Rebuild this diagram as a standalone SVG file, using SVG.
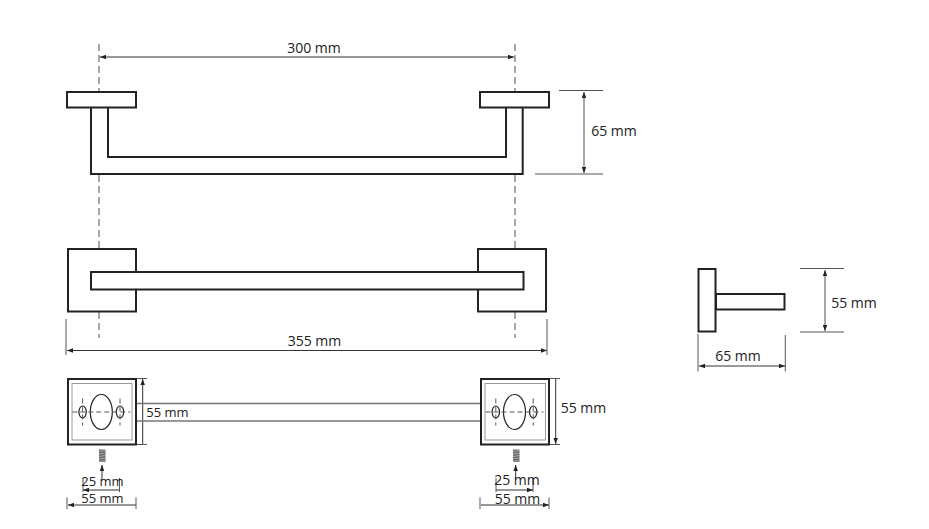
<svg xmlns="http://www.w3.org/2000/svg" width="929" height="529" viewBox="0 0 929 529">
<defs>
<marker id="a" viewBox="0 0 8 6" refX="8" refY="3" markerWidth="6" markerHeight="4.5" markerUnits="userSpaceOnUse" orient="auto-start-reverse"><path d="M0 0L8 3L0 6Z" fill="#222"/></marker>
<g id="holes">
<ellipse cx="0" cy="0" rx="11" ry="17.5" class="th"/>
<ellipse cx="-18.7" cy="0" rx="3.700" ry="6" class="th"/>
<ellipse cx="18.7" cy="0" rx="3.700" ry="6" class="th"/>
<path d="M-29 0H29" class="cl"/>
<path d="M-18.7-13.500V13.500M18.700-13.500V13.500" class="cl"/>
</g>
<g id="screw">
<rect x="0" y="0" width="6.500" height="12.500" fill="#666"/>
<path d="M0 2L6.500 1M0 4.500L6.500 3.500M0 7L6.500 6M0 9.500L6.500 8.500M0 12L6.500 11" stroke="#ccc" stroke-width=".7"/>
</g>
</defs>
<style>
text{font-family:"Open Sans","Noto Sans",sans-serif;font-size:14px;fill:#222;text-anchor:middle}
.o{fill:#fff;stroke:#222;stroke-width:2}
.l{fill:none;stroke:#222;stroke-width:2}
.d{fill:none;stroke:#333;stroke-width:1;marker-start:url(#a);marker-end:url(#a)}
.g{fill:none;stroke:#777;stroke-width:1.300;marker-start:url(#a);marker-end:url(#a)}
.t{fill:none;stroke:#555;stroke-width:1}
.dash{fill:none;stroke:#777;stroke-width:1.300;stroke-dasharray:7 4}
.th{fill:#fff;stroke:#222;stroke-width:1.200}
.cl{fill:none;stroke:#555;stroke-width:1;stroke-dasharray:5 3}
.s{font-size:13px}
</style>
<rect width="929" height="529" fill="#fff"/>
<g id="connectors">
<path class="dash" d="M99 44V91M99 175V248M99 312V338M515 44V91M515 175V248M515 312V338"/>
<path class="d" d="M100 57H514"/>
<path class="g" d="M584 92V173"/>
<path class="t" d="M559 90.500H603M535 174H603"/>
<path class="d" d="M67 350.500H547"/>
<path class="t" d="M66 319V355M547 319V355"/>
<path class="t" d="M800 268.500H844M800 332H844M698 334V371.500M785.300 335V371.500"/>
<path class="g" d="M825 270V331"/>
<path class="d" d="M699 366H785"/>
<path class="t" d="M136 378.500H147M136 444.500H147M549 378.500H560M549 444.500H560"/>
<path class="d" d="M142.700 379V444M555.700 379V444"/>
<path class="d" d="M83 490H120M496 490H533"/>
<path class="t" d="M83 478V492M119.500 478V492M496 478V492M533 478V492"/>
<path class="d" d="M68 505H136M481 505H549"/>
<path class="t" d="M67 497.500V509M136 497.500V509M480 497.500V509M549 497.500V509"/>
<path fill="none" stroke="#333" marker-end="url(#a)" d="M102 480V465"/>
<path fill="none" stroke="#333" marker-end="url(#a)" d="M515.700 480V465"/>
</g>
<g id="top-view">
<path class="l" d="M91 107V174H522.700V107M108 107V157H506V107"/>
<rect class="o" x="67" y="92" width="69" height="15.500"/>
<rect class="o" x="480" y="92" width="69" height="15.500"/>
</g>
<g id="front-view">
<rect class="o" x="68" y="249" width="68" height="62.500"/>
<rect class="o" x="478" y="249" width="68" height="62.500"/>
<rect class="o" x="91" y="272" width="432.500" height="17.500"/>
</g>
<g id="side-view">
<rect class="o" x="716" y="294" width="68.500" height="15.500"/>
<rect class="o" x="698.500" y="269" width="17" height="62.500"/>
</g>
<g id="bottom-view">
<path fill="none" stroke="#777" stroke-width="1.300" d="M136 403.500H481M136 421H481"/>
<g id="plate-left">
<rect class="o" x="68" y="379" width="68" height="65.500"/>
<rect x="72" y="383.500" width="60" height="56.500" fill="none" stroke="#999" stroke-width="1"/>
<use href="#holes" x="101.300" y="412"/>
<use href="#screw" x="99" y="449.500"/>
</g>
<g id="plate-right">
<rect class="o" x="481" y="379" width="68" height="65.500"/>
<rect x="485" y="383.500" width="60.500" height="56.500" fill="none" stroke="#999" stroke-width="1"/>
<use href="#holes" x="514.500" y="412"/>
<use href="#screw" x="513" y="449.500"/>
</g>
</g>
<g id="labels">
<text x="314" y="53">300 mm</text>
<text x="614" y="136">65 mm</text>
<text x="314.500" y="346">355 mm</text>
<text x="854" y="307.500">55 mm</text>
<text x="738" y="361">65 mm</text>
<text x="167.500" y="417" class="s">55 mm</text>
<text x="583.500" y="413">55 mm</text>
<text x="102.500" y="486" class="s">25 mm</text>
<text x="517" y="485">25 mm</text>
<text x="102.500" y="502.500" class="s">55 mm</text>
<text x="517.500" y="504">55 mm</text>
</g>
</svg>
